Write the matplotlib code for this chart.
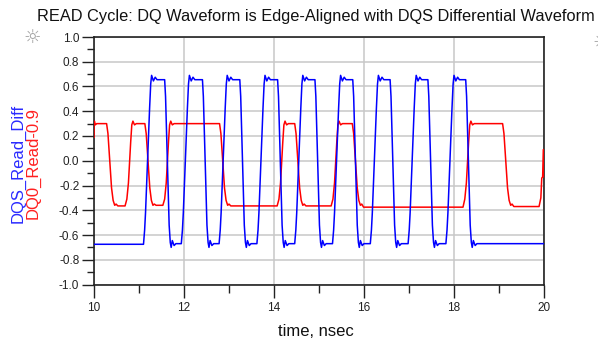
import numpy as np
import matplotlib
matplotlib.use('Agg')
import matplotlib.pyplot as plt
from matplotlib.ticker import MultipleLocator, FormatStrFormatter

plt.rcParams['font.family'] = ['Liberation Sans', 'DejaVu Sans']
plt.rcParams['axes.unicode_minus'] = False

title = 'READ Cycle: DQ Waveform is Edge-Aligned with DQS Differential Waveform'
xlabel = 'time, nsec'
dqs_name = 'DQS_Read_Diff'
dq_name = 'DQ0_Read-0.9'

# DQS differential (ns, V), one row per pulse
dqs_t = [10.00,
         11.10, 11.125, 11.145, 11.235, 11.26, 11.28, 11.32, 11.36, 11.40, 11.57, 11.59, 11.67, 11.695, 11.715, 11.74, 11.78, 11.82,
         11.94, 11.965, 11.985, 12.075, 12.10, 12.12, 12.16, 12.20, 12.24, 12.41, 12.43, 12.51, 12.535, 12.555, 12.58, 12.62, 12.66,
         12.78, 12.805, 12.825, 12.915, 12.94, 12.96, 13.00, 13.04, 13.08, 13.24, 13.26, 13.34, 13.365, 13.385, 13.41, 13.45, 13.49,
         13.62, 13.645, 13.665, 13.755, 13.78, 13.80, 13.84, 13.88, 13.92, 14.08, 14.10, 14.18, 14.205, 14.225, 14.25, 14.29, 14.33,
         14.46, 14.485, 14.505, 14.595, 14.62, 14.64, 14.68, 14.72, 14.76, 14.91, 14.93, 15.01, 15.035, 15.055, 15.08, 15.12, 15.16,
         15.30, 15.325, 15.345, 15.435, 15.46, 15.48, 15.52, 15.56, 15.60, 15.75, 15.77, 15.85, 15.875, 15.895, 15.92, 15.96, 16.00,
         16.14, 16.165, 16.185, 16.275, 16.30, 16.32, 16.36, 16.40, 16.44, 16.58, 16.60, 16.68, 16.705, 16.725, 16.75, 16.79, 16.83,
         16.98, 17.005, 17.025, 17.115, 17.14, 17.16, 17.20, 17.24, 17.28, 17.42, 17.44, 17.52, 17.545, 17.565, 17.59, 17.63, 17.67,
         17.82, 17.845, 17.865, 17.955, 17.98, 18.00, 18.04, 18.08, 18.12, 18.26, 18.28, 18.36, 18.385, 18.405, 18.43, 18.47, 18.51,
         20.00]
dqs_v = [-0.675,
         -0.675, -0.56, -0.42, 0.42, 0.62, 0.69, 0.645, 0.675, 0.655, 0.655, 0.52, -0.52, -0.66, -0.70, -0.645, -0.685, -0.67,
         -0.67, -0.56, -0.42, 0.42, 0.62, 0.69, 0.645, 0.675, 0.655, 0.655, 0.52, -0.52, -0.66, -0.70, -0.645, -0.685, -0.67,
         -0.67, -0.56, -0.42, 0.42, 0.62, 0.69, 0.645, 0.675, 0.655, 0.655, 0.52, -0.52, -0.66, -0.70, -0.645, -0.685, -0.67,
         -0.67, -0.56, -0.42, 0.42, 0.62, 0.69, 0.645, 0.675, 0.655, 0.655, 0.52, -0.52, -0.66, -0.70, -0.645, -0.685, -0.67,
         -0.67, -0.56, -0.42, 0.42, 0.62, 0.69, 0.645, 0.675, 0.655, 0.655, 0.52, -0.52, -0.66, -0.70, -0.645, -0.685, -0.67,
         -0.67, -0.56, -0.42, 0.42, 0.62, 0.69, 0.645, 0.675, 0.655, 0.655, 0.52, -0.52, -0.66, -0.70, -0.645, -0.685, -0.67,
         -0.67, -0.56, -0.42, 0.42, 0.62, 0.69, 0.645, 0.675, 0.655, 0.655, 0.52, -0.52, -0.66, -0.70, -0.645, -0.685, -0.67,
         -0.67, -0.56, -0.42, 0.42, 0.62, 0.69, 0.645, 0.675, 0.655, 0.655, 0.52, -0.52, -0.66, -0.70, -0.645, -0.685, -0.67,
         -0.67, -0.56, -0.42, 0.42, 0.62, 0.69, 0.645, 0.675, 0.655, 0.655, 0.52, -0.52, -0.66, -0.70, -0.645, -0.685, -0.67,
         -0.67]

# DQ0 minus 0.9 V, one row per edge
dq_t = [10.00, 10.00, 10.01, 10.03, 10.06,
        10.28, 10.31, 10.39, 10.425, 10.46, 10.49, 10.53,
        10.69, 10.73, 10.765, 10.815, 10.84, 10.865, 10.90, 10.94,
        11.13, 11.16, 11.24, 11.275, 11.31, 11.34, 11.38,
        11.53, 11.57, 11.605, 11.655, 11.68, 11.705, 11.74, 11.78,
        12.79, 12.82, 12.90, 12.935, 12.97, 13.00, 13.04,
        14.07, 14.11, 14.145, 14.195, 14.22, 14.245, 14.28, 14.32,
        14.46, 14.49, 14.57, 14.605, 14.64, 14.67, 14.71,
        15.27, 15.31, 15.345, 15.395, 15.42, 15.445, 15.48, 15.52,
        15.74, 15.77, 15.85, 15.885, 15.92, 15.95, 15.99,
        18.20, 18.24, 18.275, 18.325, 18.35, 18.375, 18.41, 18.45,
        19.08, 19.11, 19.19, 19.225, 19.26, 19.29, 19.33,
        19.89, 19.93, 19.95, 19.97, 19.985, 20.00, 20.00]
dq_v = [0.19, 0.31, 0.32, 0.29, 0.30,
        0.30, 0.22, -0.22, -0.32, -0.36, -0.35, -0.365,
        -0.365, -0.31, -0.18, 0.15, 0.29, 0.32, 0.29, 0.30,
        0.30, 0.22, -0.22, -0.32, -0.36, -0.35, -0.36,
        -0.36, -0.31, -0.18, 0.15, 0.29, 0.32, 0.29, 0.30,
        0.30, 0.22, -0.22, -0.32, -0.36, -0.35, -0.365,
        -0.365, -0.31, -0.18, 0.15, 0.29, 0.32, 0.29, 0.30,
        0.30, 0.22, -0.22, -0.32, -0.36, -0.35, -0.365,
        -0.365, -0.31, -0.18, 0.15, 0.29, 0.32, 0.29, 0.30,
        0.30, 0.22, -0.22, -0.32, -0.36, -0.35, -0.375,
        -0.375, -0.31, -0.18, 0.15, 0.29, 0.32, 0.29, 0.30,
        0.30, 0.22, -0.22, -0.32, -0.36, -0.35, -0.37,
        -0.37, -0.30, -0.14, -0.13, 0.09, 0.09, -0.13]

W, H = 598, 349
fig = plt.figure(figsize=(W / 100, H / 100), dpi=100)
ax = fig.add_axes([94 / W, 1 - 284.5 / H, 450 / W, 247.5 / H])

ax.plot(dq_t, dq_v, color='#ff0000', lw=1.1, zorder=3)
ax.plot(dqs_t, dqs_v, color='#0000ff', lw=1.1, zorder=4)

ax.set_xlim(10, 20)
ax.set_ylim(-1, 1)
ax.xaxis.set_major_locator(MultipleLocator(2))
ax.xaxis.set_minor_locator(MultipleLocator(1))
ax.yaxis.set_major_locator(MultipleLocator(0.2))
ax.yaxis.set_minor_locator(MultipleLocator(0.1))
ax.yaxis.set_major_formatter(FormatStrFormatter('%.1f'))
ax.grid(True, which='major', color='#c8c8c8', lw=1.1, zorder=0)

ax.tick_params(axis='y', which='major', length=8.6, width=1.0, pad=2, labelsize=8.5, colors='#222222')
ax.tick_params(axis='y', which='minor', length=5, width=1.0, colors='#222222')
ax.tick_params(axis='x', which='major', length=9.4, width=1.0, pad=3, labelsize=8.5, colors='#222222')
ax.tick_params(axis='x', which='minor', length=5.8, width=1.0, colors='#222222')
for side in ['left', 'bottom', 'top', 'right']:
    ax.spines[side].set_color('#222222')
    ax.spines[side].set_linewidth(1.2)

fig.text(37 / W, 1 - 21 / H, title, fontsize=11.8, ha='left', va='baseline', color='#111111')
fig.text(316 / W, 1 - 331 / H, xlabel, fontsize=12, ha='center', va='center', color='#111111')
fig.text(18 / W, 1 - 163 / H, dqs_name, fontsize=12, rotation=90, ha='center', va='center', color='#2a2aff')
fig.text(33 / W, 1 - 163 / H, dq_name, fontsize=12, rotation=90, ha='center', va='center', color='#ff2020')

# little marker icons in the corners
fig.text(32 / W, 1 - 37 / H, '\u263c', fontsize=14, ha='center', va='center', color='#a0a0a0', family='DejaVu Sans')
fig.text(601 / W, 1 - 42 / H, '\u263c', fontsize=14, ha='center', va='center', color='#a0a0a0', family='DejaVu Sans')

fig.savefig('out.png', dpi=100)
